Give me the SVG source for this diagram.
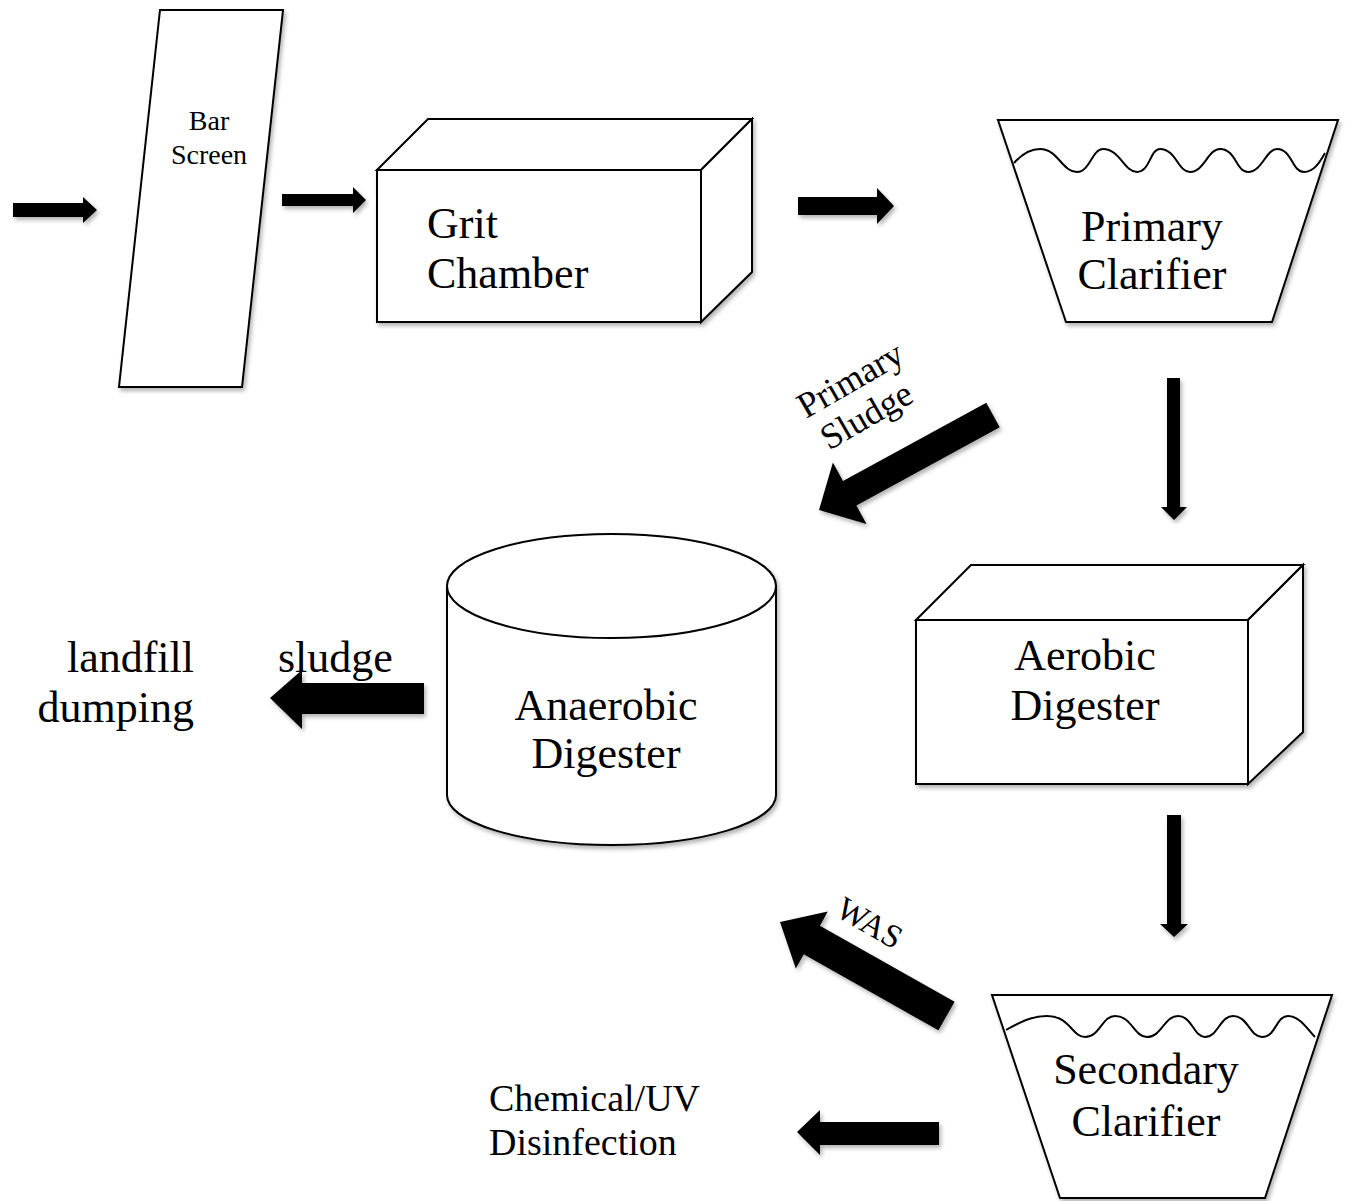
<svg xmlns="http://www.w3.org/2000/svg" width="1346" height="1201" viewBox="0 0 1346 1201">
  <defs>
    <filter id="shadow" x="-10%" y="-10%" width="130%" height="130%">
      <feDropShadow dx="2" dy="3" stdDeviation="2" flood-color="#000" flood-opacity="0.3"/>
    </filter>
  </defs>
  <style>
    .shape { fill: #fff; stroke: #000; stroke-width: 2; stroke-linejoin: miter; }
    .wave { fill: none; stroke: #000; stroke-width: 2; }
    .arrow { fill: #000; stroke: none; }
    text { font-family: "Liberation Serif", "DejaVu Serif", serif; fill: #000; }
    .big { font-size: 44px; }
    .mid { font-size: 38px; }
    .small { font-size: 28px; }
    .tag { font-size: 36px; }
    .was { font-size: 33px; }
  </style>

  <rect width="1346" height="1201" fill="#fff"/>

  <!-- Bar screen -->
  <g id="bar-screen">
    <polygon class="shape" filter="url(#shadow)" points="160,10 283,10 242,387 119,387"/>
    <text class="small" x="209" y="130" text-anchor="middle">Bar</text>
    <text class="small" x="209" y="164" text-anchor="middle">Screen</text>
  </g>

  <!-- Grit chamber (box in perspective) -->
  <g id="grit-chamber">
    <g filter="url(#shadow)">
      <polygon class="shape" points="377,170 428,119 752,119 701,170"/>
      <polygon class="shape" points="701,170 752,119 752,272 701,322"/>
      <rect class="shape" x="377" y="170" width="324" height="152"/>
    </g>
    <text class="big" x="427" y="238">Grit</text>
    <text class="big" x="427" y="288">Chamber</text>
  </g>

  <!-- Primary clarifier -->
  <g id="primary-clarifier">
    <polygon class="shape" filter="url(#shadow)" points="998,120 1338,120 1272,322 1066,322"/>
    <path class="wave" d="M1014,163 C1022,154 1030,149 1040,149 C1058,149 1062,172 1077,172 C1090,172 1092,149 1103,149 C1120,149 1124,172 1137,172 C1150,172 1150,149 1160,149 C1176,149 1178,172 1190,172 C1204,172 1208,149 1220,149 C1236,149 1236,172 1248,172 C1262,172 1266,149 1277,149 C1292,149 1292,172 1304,172 C1314,172 1320,162 1325,153"/>
    <text class="big" x="1152" y="241" text-anchor="middle">Primary</text>
    <text class="big" x="1152" y="289" text-anchor="middle">Clarifier</text>
  </g>

  <!-- Anaerobic digester (cylinder) -->
  <g id="anaerobic-digester">
    <g filter="url(#shadow)">
      <path class="shape" d="M447,586 L447,795 A164.5,50 0 0 0 776,795 L776,586 Z"/>
      <ellipse class="shape" cx="611.5" cy="586" rx="164.5" ry="52"/>
    </g>
    <text class="big" x="606" y="720" text-anchor="middle">Anaerobic</text>
    <text class="big" x="606" y="768" text-anchor="middle">Digester</text>
  </g>

  <!-- Aerobic digester (box in perspective) -->
  <g id="aerobic-digester">
    <g filter="url(#shadow)">
      <polygon class="shape" points="916,620 971,565 1303,565 1248,620"/>
      <polygon class="shape" points="1248,620 1303,565 1303,732 1248,784"/>
      <rect class="shape" x="916" y="620" width="332" height="164"/>
    </g>
    <text class="big" x="1085" y="670" text-anchor="middle">Aerobic</text>
    <text class="big" x="1085" y="720" text-anchor="middle">Digester</text>
  </g>

  <!-- Secondary clarifier -->
  <g id="secondary-clarifier">
    <polygon class="shape" filter="url(#shadow)" points="992,995 1332,995 1265,1198 1060,1198"/>
    <path class="wave" d="M1006,1030 C1020,1022 1032,1016 1047,1016 C1070,1016 1072,1037 1085,1037 C1100,1037 1102,1016 1115,1016 C1132,1016 1134,1037 1147,1037 C1162,1037 1164,1016 1178,1016 C1192,1016 1194,1037 1205,1037 C1218,1037 1220,1016 1233,1016 C1248,1016 1250,1037 1262,1037 C1276,1037 1276,1016 1288,1016 C1300,1016 1308,1030 1315,1037"/>
    <text class="big" x="1146" y="1084" text-anchor="middle">Secondary</text>
    <text class="big" x="1146" y="1136" text-anchor="middle">Clarifier</text>
  </g>

  <!-- Outlets -->
  <g id="landfill-dumping">
    <text class="big" x="194" y="672" text-anchor="end">landfill</text>
    <text class="big" x="194" y="722" text-anchor="end">dumping</text>
  </g>

  <g id="disinfection">
    <text class="mid" x="489" y="1111">Chemical/UV</text>
    <text class="mid" x="489" y="1155">Disinfection</text>
  </g>

  <!-- Flow arrows -->
  <g id="connectors" filter="url(#shadow)">
    <polygon class="arrow" points="13,203 83,203 83,197 97,210 83,223 83,217 13,217"/>
    <polygon class="arrow" points="282,194 353,194 353,187 366,200 353,213 353,206 282,206"/>
    <polygon class="arrow" points="798,197 877,197 877,188 894,206 877,224 877,215 798,215"/>
    <polygon class="arrow" points="1167,378 1180,378 1180,507 1187,507 1174,520 1161,507 1167,507"/>
    <polygon class="arrow" points="986.3,402.7 999.7,427.3 856.4,505.5 866.5,524 819,510 832.9,462.5 843,480.9"/>
    <polygon class="arrow" points="424,683 302,683 302,670 270,698 302,729 302,714 424,714"/>
    <polygon class="arrow" points="1167,815 1181,815 1181,924 1188,924 1174,937 1160,924 1167,924"/>
    <polygon class="arrow" points="954.6,1001.7 819.9,925.7 827.8,911.6 780,922 795.8,968.4 803.7,954.3 938.4,1030.3"/>
    <polygon class="arrow" points="939,1122 820,1122 820,1110 797,1132 820,1155 820,1145 939,1145"/>
  </g>

  <!-- Flow labels -->
  <g id="flow-labels">
    <g transform="translate(806,419) rotate(-30)">
      <text class="tag" x="0" y="0">Primary</text>
      <text class="tag" x="4" y="39">Sludge</text>
    </g>
    <text class="was" transform="translate(834,915) rotate(30)">WAS</text>
    <text class="big" x="278" y="672">sludge</text>
  </g>
</svg>
